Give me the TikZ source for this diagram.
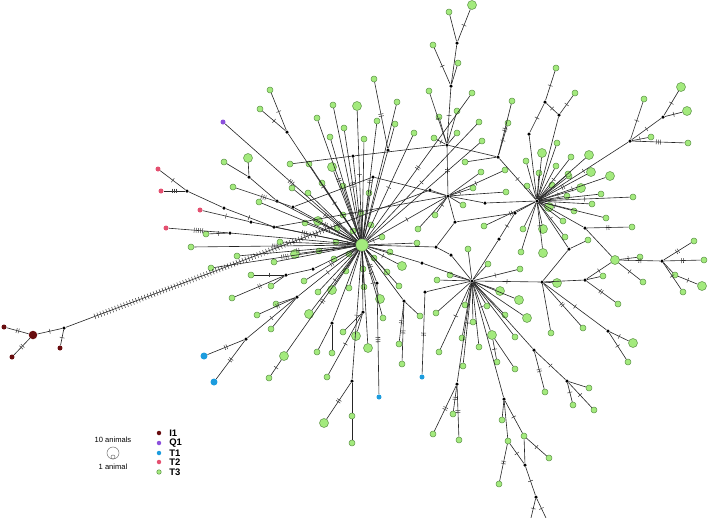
\documentclass[tikz,border=0pt]{standalone}
\usepackage{fontspec}
\setmainfont{Liberation Sans}
\usepackage{xcolor}
\usetikzlibrary{decorations.markings}
\definecolor{grn}{RGB}{163,234,125}
\definecolor{grnd}{RGB}{96,150,74}
\definecolor{ired}{RGB}{104,12,14}
\definecolor{qpur}{RGB}{140,80,220}
\definecolor{tblu}{RGB}{28,156,222}
\definecolor{tpnk}{RGB}{228,80,112}

\begin{document}
\begin{tikzpicture}[-, x=0.02cm, y=-0.02cm, line width=0.35pt,
  every edge/.style={draw=black!85, line width=0.35pt},
  gs/.style={circle, draw=grnd, line width=0.3pt, fill=grn, inner sep=0pt, minimum size=0.12cm},
  gl/.style={gs, minimum size=0.18cm},
  hub/.style={gs, minimum size=0.25cm},
  mv/.style={circle, fill=black, inner sep=0pt, minimum size=0.07cm},
  i1s/.style={circle, fill=ired, inner sep=0pt, minimum size=0.1cm},
  i1l/.style={circle, fill=ired, inner sep=0pt, minimum size=0.17cm},
  q1/.style={circle, fill=qpur, inner sep=0pt, minimum size=0.1cm},
  t1/.style={circle, fill=tblu, inner sep=0pt, minimum size=0.1cm},
  t1l/.style={circle, fill=tblu, inner sep=0pt, minimum size=0.14cm},
  t2/.style={circle, fill=tpnk, inner sep=0pt, minimum size=0.1cm},
  mk/.style={postaction={decorate, decoration={markings, mark=at position 0.5 with {\foreach \i in {1,...,#1} {\draw[line width=0.3pt, black!75] ({(\i-(#1+1)/2)*1.2pt},-1.4pt) -- ++(0,2.8pt);}}}}},
  hatch/.style={postaction={decorate, decoration={markings, mark=between positions 0.08 and 0.76 step 1.8pt with {\draw[line width=0.3pt, black!75] (0,-1.6pt) -- (0,1.6pt);}}}},
  lgd/.style={anchor=west, font=\fontsize{5.4}{6}\selectfont\bfseries, inner sep=0pt},
  lgt/.style={font=\fontsize{4.3}{5}\selectfont, inner sep=0pt}]
\useasboundingbox (0,0) rectangle (708,518);

% hubs
\node[hub] (h) at (362,245) {};
\node[mv] (b) at (537,201) {};
\node[mv] (c) at (472,281) {};

% coloured haplotypes
\node[i1l] (i1) at (33,335) {};
\node[i1s] (i2) at (4,327) {};
\node[i1s] (i3) at (12,357) {};
\node[i1s] (i4) at (60,348) {};
\node[q1] (q1) at (223,122) {};
\node[t2] (p1) at (158,169) {};
\node[t2] (p2) at (161,191) {};
\node[t2] (p3) at (200,210) {};
\node[t2] (p4) at (166,228) {};
\node[t1l] (u1) at (204,356) {};
\node[t1l] (u2) at (214,382) {};
\node[t1] (u3) at (379,397) {};
\node[t1] (u4) at (422,377) {};

% median vectors
\node[mv] (k0) at (64,328) {};
\node[mv] (k1) at (287,132) {};
\node[mv] (k2) at (249,177) {};
\node[mv] (k3) at (277,201) {};
\node[mv] (k4) at (187,191) {};
\node[mv] (k5) at (224,208) {};
\node[mv] (k6) at (274,227) {};
\node[mv] (k7) at (251,222) {};
\node[mv] (k8) at (230,233) {};
\node[mv] (k9) at (293,207) {};
\node[mv] (k10) at (286,275) {};
\node[mv] (k11) at (313,269) {};
\node[mv] (k12) at (297,297) {};
\node[mv] (k13) at (246,339) {};
\node[mv] (k14) at (332,323) {};
\node[mv] (k15) at (363,312) {};
\node[mv] (k16) at (352,381) {};
\node[mv] (k17) at (377,283) {};
\node[mv] (k18) at (404,301) {};
\node[mv] (k19) at (425,292) {};
\node[mv] (k20) at (457,384) {};
\node[mv] (k21) at (504,399) {};
\node[mv] (k22) at (525,465) {};
\node[mv] (k23) at (536,497) {};
\node[mv] (k24) at (534,350) {};
\node[mv] (k25) at (567,381) {};
\node[mv] (k26) at (542,282) {};
\node[mv] (k27) at (585,280) {};
\node[mv] (k28) at (662,261) {};
\node[mv] (k29) at (569,249) {};
\node[mv] (k30) at (608,331) {};
\node[mv] (k31) at (585,228) {};
\node[mv] (k32) at (630,141) {};
\node[mv] (k33) at (663,117) {};
\node[mv] (k34) at (529,134) {};
\node[mv] (k35) at (545,102) {};
\node[mv] (k36) at (559,115) {};
\node[mv] (k37) at (498,157) {};
\node[mv] (k38) at (447,145) {};
\node[mv] (k39) at (451,86) {};
\node[mv] (k40) at (457,43) {};
\node[mv] (k41) at (430,190) {};
\node[mv] (k42) at (485,203) {};
\node[mv] (k43) at (436,247) {};
\node[mv] (k44) at (451,255) {};
\node[mv] (k45) at (422,263) {};
\node[mv] (k46) at (515,213) {};
\node[mv] (k47) at (499,239) {};
\node[mv] (k48) at (353,156) {};
\node[mv] (k49) at (388,150) {};
\node[mv] (k50) at (448,196) {};
\node[mv] (k51) at (455,222) {};
\node[mv] (k52) at (373,177) {};
\coordinate (e1) at (531,518);
\coordinate (e2) at (546,518);

% T3 haplotypes
\node[gs] (g1) at (449,12) {};
\node[gl] (g2) at (472,5) {};
\node[gs] (g3) at (433,45) {};
\node[gs] (g4) at (458,63) {};
\node[gs] (g5) at (429,91) {};
\node[gs] (g6) at (457,111) {};
\node[gs] (g7) at (439,117) {};
\node[gs] (g8) at (457,133) {};
\node[gs] (g9) at (434,138) {};
\node[gs] (g10) at (270,90) {};
\node[gs] (g11) at (260,109) {};
\node[gs] (g12) at (317,118) {};
\node[gs] (g13) at (333,105) {};
\node[gl] (g14) at (357,106) {};
\node[gs] (g15) at (344,128) {};
\node[gs] (g16) at (330,137) {};
\node[gs] (g17) at (374,79) {};
\node[gs] (g18) at (397,102) {};
\node[gs] (g19) at (377,121) {};
\node[gs] (g20) at (364,139) {};
\node[gs] (g21) at (395,124) {};
\node[gs] (g22) at (414,133) {};
\node[gl] (g23) at (248,158) {};
\node[gs] (g24) at (224,162) {};
\node[gs] (g25) at (233,187) {};
\node[gs] (g26) at (259,202) {};
\node[gs] (g27) at (290,164) {};
\node[gs] (g28) at (309,164) {};
\node[gl] (g29) at (332,167) {};
\node[gs] (g30) at (292,188) {};
\node[gs] (g31) at (308,193) {};
\node[gs] (g32) at (322,183) {};
\node[gs] (g33) at (343,186) {};
\node[gs] (g34) at (369,193) {};
\node[gs] (g35) at (206,234) {};
\node[gs] (g36) at (191,247) {};
\node[gs] (g37) at (211,268) {};
\node[gs] (g38) at (237,256) {};
\node[gs] (g39) at (305,223) {};
\node[gl] (g40) at (318,221) {};
\node[gs] (g41) at (343,215) {};
\node[gs] (g42) at (361,213) {};
\node[gs] (g43) at (371,225) {};
\node[gs] (g44) at (353,231) {};
\node[gs] (g45) at (337,228) {};
\node[gs] (g46) at (336,242) {};
\node[gs] (g47) at (319,251) {};
\node[gs] (g48) at (349,254) {};
\node[gs] (g49) at (382,237) {};
\node[gs] (g50) at (390,252) {};
\node[gs] (g51) at (374,258) {};
\node[gs] (g52) at (363,269) {};
\node[gs] (g53) at (346,271) {};
\node[gl] (g54) at (402,266) {};
\node[gs] (g55) at (417,243) {};
\node[gs] (g56) at (334,259) {};
\node[gs] (g57) at (304,281) {};
\node[gl] (g58) at (332,290) {};
\node[gs] (g59) at (349,288) {};
\node[gs] (g60) at (364,287) {};
\node[gs] (g61) at (318,292) {};
\node[gl] (g62) at (380,299) {};
\node[gs] (g63) at (399,286) {};
\node[gs] (g64) at (418,229) {};
\node[gs] (g65) at (435,215) {};
\node[gl] (g66) at (295,254) {};
\node[gs] (g67) at (280,242) {};
\node[gs] (g68) at (274,262) {};
\node[gs] (g69) at (251,275) {};
\node[gs] (g70) at (232,298) {};
\node[gs] (g71) at (271,286) {};
\node[gs] (g73) at (276,304) {};
\node[gs] (g74) at (257,315) {};
\node[gl] (g75) at (284,356) {};
\node[gs] (g76) at (269,378) {};
\node[gl] (g77) at (309,314) {};
\node[gs] (g78) at (271,329) {};
\node[gs] (g79) at (317,352) {};
\node[gs] (g80) at (332,353) {};
\node[gs] (g81) at (327,377) {};
\node[gs] (g82) at (343,332) {};
\node[gl] (g83) at (356,336) {};
\node[gl] (g84) at (368,348) {};
\node[gl] (g85) at (324,423) {};
\node[gs] (g86) at (352,416) {};
\node[gs] (g87) at (352,443) {};
\node[gs] (g88) at (383,318) {};
\node[gs] (g89) at (387,272) {};
\node[gs] (g91) at (399,344) {};
\node[gs] (g92) at (402,364) {};
\node[gs] (g93) at (420,316) {};
\node[gs] (g94) at (436,313) {};
\node[gs] (g95) at (439,352) {};
\node[gs] (g96) at (462,338) {};
\node[gs] (g97) at (463,366) {};
\node[gs] (g98) at (453,414) {};
\node[gs] (g99) at (433,434) {};
\node[gs] (g100) at (459,440) {};
\node[gs] (g101) at (479,347) {};
\node[gl] (g102) at (492,335) {};
\node[gs] (g103) at (497,362) {};
\node[gs] (g104) at (515,369) {};
\node[gs] (g105) at (502,420) {};
\node[gs] (g106) at (508,441) {};
\node[gs] (g107) at (524,436) {};
\node[gs] (g108) at (549,458) {};
\node[gs] (g109) at (499,484) {};
\node[gs] (g110) at (545,392) {};
\node[gs] (g111) at (589,388) {};
\node[gs] (g112) at (573,405) {};
\node[gs] (g113) at (594,410) {};
\node[gs] (g114) at (515,337) {};
\node[gs] (g115) at (505,315) {};
\node[gl] (g116) at (527,318) {};
\node[gl] (g117) at (519,300) {};
\node[gl] (g118) at (500,291) {};
\node[gs] (g119) at (473,322) {};
\node[gs] (g120) at (465,305) {};
\node[gs] (g121) at (487,306) {};
\node[gs] (g122) at (520,269) {};
\node[gs] (g123) at (488,264) {};
\node[gs] (g124) at (468,249) {};
\node[gs] (g125) at (450,275) {};
\node[gs] (g126) at (437,280) {};
\node[gl] (g127) at (557,283) {};
\node[gs] (g128) at (618,304) {};
\node[gs] (g129) at (603,276) {};
\node[gl] (g130) at (615,260) {};
\node[gs] (g131) at (640,257) {};
\node[gs] (g132) at (694,241) {};
\node[gs] (g133) at (704,260) {};
\node[gs] (g134) at (675,275) {};
\node[gl] (g135) at (702,286) {};
\node[gs] (g136) at (683,292) {};
\node[gs] (g137) at (643,282) {};
\node[gs] (g138) at (588,240) {};
\node[gl] (g139) at (633,343) {};
\node[gs] (g140) at (628,362) {};
\node[gs] (g141) at (583,328) {};
\node[gs] (g142) at (551,333) {};
\node[gs] (g143) at (632,227) {};
\node[gl] (g144) at (589,155) {};
\node[gs] (g145) at (571,157) {};
\node[gs] (g146) at (556,166) {};
\node[gl] (g147) at (591,172) {};
\node[gl] (g148) at (610,176) {};
\node[gs] (g149) at (569,176) {};
\node[gl] (g150) at (581,188) {};
\node[gs] (g151) at (601,194) {};
\node[gs] (g152) at (633,197) {};
\node[gs] (g153) at (592,204) {};
\node[gs] (g154) at (574,211) {};
\node[gs] (g155) at (606,218) {};
\node[gl] (g156) at (549,207) {};
\node[gs] (g157) at (563,221) {};
\node[gs] (g158) at (565,237) {};
\node[gl] (g159) at (543,229) {};
\node[gs] (g160) at (557,143) {};
\node[gl] (g161) at (542,153) {};
\node[gs] (g162) at (526,161) {};
\node[gs] (g163) at (539,173) {};
\node[gs] (g164) at (505,170) {};
\node[gs] (g165) at (527,186) {};
\node[gs] (g166) at (506,192) {};
\node[gs] (g167) at (552,185) {};
\node[gs] (g168) at (568,174) {};
\node[gs] (g169) at (567,196) {};
\node[gl] (g170) at (543,253) {};
\node[gs] (g171) at (521,252) {};
\node[gs] (g172) at (523,229) {};
\node[gs] (g173) at (484,226) {};
\node[gs] (g174) at (473,188) {};
\node[gs] (g175) at (463,205) {};
\node[gs] (g176) at (481,172) {};
\node[gs] (g177) at (465,162) {};
\node[gl] (g178) at (681,87) {};
\node[gl] (g179) at (687,111) {};
\node[gs] (g180) at (644,99) {};
\node[gs] (g181) at (651,137) {};
\node[gs] (g182) at (688,143) {};
\node[gs] (g183) at (556,68) {};
\node[gs] (g184) at (575,93) {};
\node[gs] (g185) at (512,101) {};
\node[gs] (g186) at (508,123) {};
\node[gs] (g187) at (472,93) {};
\node[gs] (g188) at (479,122) {};
\node[gs] (g189) at (482,141) {};

% I1 branch
\path (i1) edge[mk=2] (i2) edge[mk=2] (i3) edge[mk=1] (k0)
(k0) edge[mk=1] (i4) edge[hatch] (k41);

% central hub
\path (h) edge[mk=1] (k1) edge[mk=3] (q1) edge (k49) edge (k3) edge[mk=2] (k9) edge (k48) edge (k52)
 edge[mk=1] (k6) edge[mk=3] (k7) edge (k8) edge (k11) edge[mk=1] (k12) edge (k14) edge (k15)
 edge[mk=1] (k16) edge[mk=2] (k17) edge (k18) edge (k45) edge[mk=1] (k50) edge (k43);
\path (h) edge[mk=2] (g12) edge (g13) edge[mk=1] (g14) edge[mk=3] (g15) edge (g16) edge (g18)
 edge[mk=2] (g19) edge (g20) edge[mk=1] (g22) edge (g26) edge[mk=1] (g28) edge (g29) edge[mk=2] (g30)
 edge (g31) edge (g32) edge[mk=1] (g33) edge (g34);
\path (h) edge[mk=3] (g36) edge[mk=4] (g37) edge[mk=2] (g38) edge (g39) edge[mk=1] (g40) edge (g41)
 edge (g42) edge (g43) edge (g44) edge (g45) edge[mk=1] (g46) edge (g47) edge (g48) edge[mk=1] (g49)
 edge (g50) edge (g51) edge (g52) edge (g53) edge[mk=1] (g54) edge (g55) edge (g56) edge[mk=2] (g57)
 edge (g58) edge (g59) edge (g60) edge (g61) edge[mk=1] (g62) edge (g63) edge (g66) edge (g67) edge (g68);
\path (h) edge[mk=2] (g75) edge[mk=1] (g77) edge (g84) edge[mk=1] (g88) edge (g89)
 edge[mk=2] (g187) edge[mk=1] (g188) edge (g189);

% top branches
\path (k40) edge (g1) edge[mk=1] (g2) edge (k39)
(k39) edge[mk=1] (g3) edge (g4) edge[mk=1] (k38)
(k38) edge[mk=1] (g5) edge (g6) edge (g7) edge (g8) edge[mk=1] (g9) edge (k37) edge (k48) edge[mk=2] (k50)
(k1) edge[mk=1] (g10) edge[mk=1] (g11)
(k49) edge[mk=2] (g17) edge (g21)
(k2) edge (g23) edge (g24) edge (k3)
(k48) edge (g27)
(k52) edge (k50) edge (k9)
(k9) edge[mk=3] (g25);

% secondary hub
\path (k50) edge (k41) edge[mk=1] (g174) edge (g176) edge[mk=1] (g164) edge (g166) edge (g175)
 edge[mk=1] (g65) edge (g64) edge (k42) edge (k51) edge[mk=2] (k6)
(k51) edge (k46) edge (k43);

% left branches
\path (k4) edge[mk=1] (p1) edge[mk=3] (p2) edge (k5)
(k5) edge[mk=1] (k6)
(k7) edge[mk=1] (p3)
(k8) edge[mk=5] (p4) edge[mk=1] (g35)
(k10) edge[mk=1] (g69) edge[mk=2] (g70) edge (g71) edge (k11)
(k12) edge (g73) edge[mk=2] (g74) edge (g78) edge[mk=1] (k13)
(k13) edge[mk=2] (u1) edge[mk=2] (u2)
(g75) edge[mk=1] (g76)
(k14) edge (g79) edge (g80)
(k15) edge[mk=1] (g81) edge (g82) edge (g83)
(k16) edge[mk=2] (g85) edge (g86)
(g86) edge (g87)
(k17) edge[mk=3] (u3)
(k18) edge[mk=2] (g91) edge[mk=2] (g92) edge (g93);

% hub C
\path (c) edge (k19) edge (g94) edge[mk=1] (g95) edge (g96) edge[mk=1] (g97) edge (k20) edge (g101)
 edge[mk=1] (g102) edge (k21) edge (k24) edge (g114) edge (g115) edge (g116) edge (g117) edge (g118)
 edge (g119) edge (g120) edge (g121) edge[mk=1] (g122) edge (g123) edge (g124) edge (g125) edge (g126)
 edge[mk=1] (k26) edge (k44) edge (k45) edge (k47);
\path (k19) edge[mk=2] (u4)
(k20) edge[mk=2] (g98) edge[mk=2] (g99) edge[mk=2] (g100)
(g102) edge[mk=1] (g103) edge (g104)
(k21) edge (g105) edge (g106) edge[mk=1] (g107)
(g106) edge[mk=1] (k22) edge[mk=2] (g109)
(g107) edge (k22) edge[mk=1] (g108)
(k22) edge[mk=1] (k23)
(k23) edge[mk=1] (e1) edge[mk=1] (e2)
(k24) edge[mk=2] (g110) edge[mk=1] (k25)
(k25) edge (g111) edge[mk=1] (g112) edge[mk=1] (g113)
(k26) edge (g127) edge (k27) edge (k29) edge[mk=1] (k30) edge[mk=2] (g141) edge (g142)
(k27) edge[mk=2] (g128) edge (g129) edge[mk=1] (g130)
(g130) edge (k31) edge[mk=1] (g131) edge[mk=2] (k28) edge[mk=1] (g137)
(k28) edge[mk=2] (g132) edge[mk=2] (g133) edge (g134) edge[mk=1] (g136)
(g134) edge[mk=1] (g135)
(k29) edge (b) edge (g138)
(k30) edge[mk=1] (g139) edge[mk=1] (g140)
(k31) edge[mk=2] (g143) edge (b)
(k42) edge (b)
(k43) edge (k44)
(k46) edge (b) edge[mk=1] (k47);

% hub B
\path (b) edge (g144) edge[mk=1] (g145) edge (g146) edge[mk=2] (g147) edge[mk=1] (g148) edge (g149)
 edge[mk=1] (g150) edge (g151) edge[mk=1] (g152) edge (g153) edge[mk=1] (g154) edge (g155) edge (g156)
 edge (g157) edge[mk=1] (g158) edge (g159) edge (g160) edge (g161) edge (g162) edge (g163)
 edge (g165) edge (g167) edge (g168) edge (g169) edge[mk=1] (g170) edge (g171) edge (g172)
 edge[mk=2] (g173) edge[mk=1] (k32) edge (k34) edge (k36) edge[mk=1] (k37);
\path (k37) edge (g177) edge[mk=2] (g185) edge[mk=1] (g186)
(k32) edge[mk=1] (k33) edge[mk=1] (g180) edge[mk=1] (g181) edge[mk=3] (g182)
(k33) edge[mk=1] (g178) edge[mk=1] (g179)
(k34) edge[mk=1] (k35)
(k35) edge[mk=1] (g183) edge[mk=1] (k36)
(k36) edge[mk=1] (g184);

% legend
\node[lgt] (n10) at (113,440) {10 animals};
\node[circle, draw=black!55, line width=0.3pt, inner sep=0pt, minimum size=0.24cm] (c10) at (113,453) {};
\node[circle, draw=black!55, line width=0.3pt, inner sep=0pt, minimum size=0.08cm, anchor=south] (c1) at (c10.south) {};
\node[lgt] (n1) at (113,467) {1 animal};
\node[i1s, minimum size=0.09cm] (d1) at (159,433) {};
\node[q1, minimum size=0.09cm] (d2) at (159,443) {};
\node[t1, minimum size=0.09cm] (d3) at (159,453) {};
\node[t2, minimum size=0.09cm] (d4) at (159,462) {};
\node[gs, minimum size=0.09cm] (d5) at (159,472) {};
\node[lgd] (l1) at (169,433) {I1};
\node[lgd] (l2) at (169,443) {Q1};
\node[lgd] (l3) at (169,453) {T1};
\node[lgd] (l4) at (169,462) {T2};
\node[lgd] (l5) at (169,472) {T3};
\end{tikzpicture}
\end{document}
